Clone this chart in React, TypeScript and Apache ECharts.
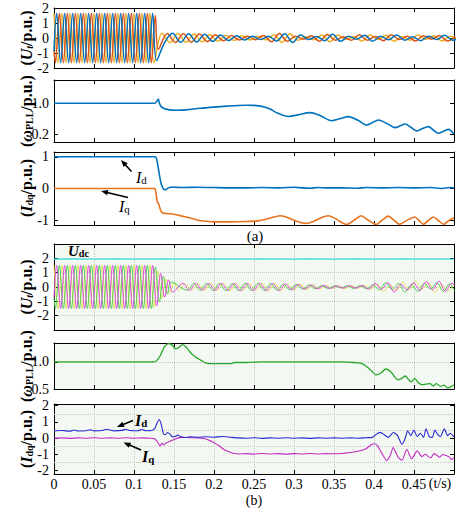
import React, { useEffect, useRef } from "react";
import * as echarts from "echarts";

const SERIF = "Liberation Serif";

// ---------------- time axis ----------------
const timeMin = 0;
const timeMax = 0.5;
const timeStep = 0.05;

// ---------------- (a) U_t : extrema of the three phases ----------------
// pre-fault extrema, one every 0.005 s
const utAYellowPre = [1.65,-1.65,1.65,-1.65,1.65,-1.65,1.65,-1.65,1.65,-1.65,1.65,-1.65,1.65,-1.65,1.65,-1.65,1.65,-1.65,1.65,-1.65,1.65,-1.65,1.65,-1.65,1.65,-1.65];
const utABluePre = [1.65,-1.65,1.65,-1.65,1.65,-1.65,1.65,-1.65,1.65,-1.65,1.65,-1.65,1.65,-1.65,1.65,-1.65,1.65,-1.65,1.65,-1.65,1.65,-1.65,1.65,-1.65,1.65];
const utAOrangePre = [-1.65,1.65,-1.65,1.65,-1.65,1.65,-1.65,1.65,-1.65,1.65,-1.65,1.65,-1.65,1.65,-1.65,1.65,-1.65,1.65,-1.65,1.65,-1.65,1.65,-1.65,1.65,-1.65];
const utABlueHead = [[0, -0.83]];
const utAOrangeHead = [[0, -0.83]];
const utABlueFault = [[0.1283, -1.5]];
const utAOrangeFault = [[0.1267, 1.5], [0.1305, -0.75]];
// post-fault extrema, one every 0.01 s
const utAYellowPost = [0.32,-0.31,0.30,-0.29,0.27,-0.26,0.24,-0.21,0.19,-0.17,0.15,-0.13,0.12,-0.14,0.22,-0.30,0.28,-0.15,0.08,-0.12,0.2,-0.25,0.2,-0.1,0.1,-0.2,0.2,-0.1,0.18,-0.22,0.1,-0.15,0.2,-0.08,0.15,-0.2,0.12,-0.1];
const utABluePost = [-0.3,0.31,-0.29,0.28,-0.27,0.25,-0.22,0.2,-0.17,0.15,-0.13,0.12,-0.1,0.12,-0.2,0.28,-0.3,0.2,-0.1,0.1,-0.18,0.25,-0.22,0.12,-0.08,0.18,-0.22,0.12,-0.12,0.2,-0.15,0.08,-0.18,0.12,-0.1,0.18,-0.15,0.1];
const utAOrangePost = [0.3,-0.3,0.29,-0.28,0.26,-0.24,0.21,-0.19,0.16,-0.14,0.12,-0.12,0.16,-0.25,0.3,-0.22,0.12,-0.08,0.15,-0.22,0.24,-0.15,0.08,-0.15,0.22,-0.15,0.1,-0.18,0.22,-0.1,0.12,-0.2,0.15,-0.08,0.16,-0.2,0.1];

// ---------------- (a) omega_PLL ----------------
const wA = [[0,1.0],[0.05,1.0],[0.1,1.0],[0.126,1.0],[0.1285,1.05],[0.1304,1.11],[0.1315,1.02],[0.1335,0.92],[0.137,0.87],[0.1425,0.835],[0.153,0.82],[0.165,0.83],[0.1825,0.87],[0.2,0.9],[0.224,0.935],[0.24,0.95],[0.25,0.945],[0.26,0.92],[0.27,0.85],[0.28,0.74],[0.2929,0.66],[0.305,0.7],[0.32,0.757],[0.333,0.68],[0.347,0.55],[0.357,0.6],[0.368,0.654],[0.38,0.56],[0.391,0.44],[0.398,0.5],[0.4054,0.568],[0.416,0.48],[0.4263,0.37],[0.433,0.42],[0.439,0.465],[0.446,0.38],[0.4533,0.284],[0.46,0.34],[0.468,0.396],[0.474,0.31],[0.4804,0.224],[0.487,0.28],[0.4929,0.327],[0.5,0.206]];

// ---------------- (a) I_d, I_q ----------------
const idA = [[0,1.0],[0.05,1.0],[0.1,1.0],[0.126,1.0],[0.128,0.95],[0.13,0.7],[0.132,0.4],[0.134,0.15],[0.136,0.02],[0.138,-0.04],[0.14,-0.03],[0.143,0.02],[0.146,0.04],[0.15,0.04],[0.16,0.03],[0.18,0.04],[0.2,0.03],[0.22,0.02],[0.24,0.02],[0.26,0.03],[0.28,0.02],[0.3,0.04],[0.31,0.02],[0.32,0.01],[0.33,0.03],[0.34,0.02],[0.36,0.02],[0.38,0.01],[0.39,0.03],[0.41,0.02],[0.43,0.03],[0.45,0.02],[0.47,0.03],[0.485,0.0],[0.495,0.03],[0.5,0.02]];
const iqA = [[0,0.0],[0.05,0.0],[0.1,0.0],[0.126,0.0],[0.1275,-0.15],[0.129,-0.4],[0.131,-0.5],[0.1335,-0.7],[0.136,-0.77],[0.14,-0.79],[0.15,-0.81],[0.16,-0.87],[0.17,-0.93],[0.18,-1.0],[0.19,-1.03],[0.2,-1.05],[0.22,-1.05],[0.24,-1.04],[0.255,-1.02],[0.265,-0.97],[0.275,-0.9],[0.2825,-0.86],[0.29,-0.9],[0.3,-1.0],[0.308,-1.07],[0.316,-1.1],[0.324,-1.04],[0.334,-0.92],[0.343,-0.86],[0.352,-0.95],[0.36,-1.08],[0.366,-1.13],[0.375,-1.0],[0.384,-0.86],[0.393,-1.0],[0.403,-1.13],[0.41,-1.0],[0.418,-0.87],[0.425,-1.0],[0.432,-1.13],[0.44,-1.02],[0.451,-0.9],[0.456,-1.0],[0.462,-1.13],[0.468,-1.0],[0.474,-0.9],[0.48,-1.0],[0.487,-1.13],[0.494,-1.0],[0.5,-0.92]];

// ---------------- (b) U_t : extrema ----------------
const utBYellowPre = [1.5,-1.5,1.5,-1.5,1.5,-1.5,1.5,-1.5,1.5,-1.5,1.5,-1.5,1.5,-1.5,1.5,-1.5,1.5,-1.5,1.5,-1.5,1.5,-1.5,1.5,-1.5,1.5,-1.4,1.1,-0.8,0.55,-0.4,0.3];
const utBMagentaPre = [1.5,-1.5,1.5,-1.5,1.5,-1.5,1.5,-1.5,1.5,-1.5,1.5,-1.5,1.5,-1.5,1.5,-1.5,1.5,-1.5,1.5,-1.5,1.5,-1.5,1.5,-1.5,1.5,-1.3,0.95,-0.7,0.5,-0.35];
const utBGreenPre = [-1.5,1.5,-1.5,1.5,-1.5,1.5,-1.5,1.5,-1.5,1.5,-1.5,1.5,-1.5,1.5,-1.5,1.5,-1.5,1.5,-1.5,1.5,-1.5,1.5,-1.5,1.5,-1.5,1.4,-1.05,0.75,-0.5,0.35];
const utBMagentaHead = [[0, -0.75]];
const utBGreenHead = [[0, -0.75]];
// post-fault extrema, one every 0.008 s
const utBYellowPost = [-0.25,0.22,-0.25,0.22,-0.24,0.25,-0.22,0.25,-0.26,0.24,-0.25,0.26,-0.24,0.25,-0.26,0.24,-0.25,0.22,-0.2,0.2,-0.18,0.15,-0.15,0.12,-0.1,0.08,-0.1,0.08,-0.08,0.12,-0.15,0.2,-0.3,0.15,-0.25,0.35,-0.2,0.42,-0.15,0.3,-0.38,0.2,-0.3,0.25];
const utBMagentaPost = [0.25,-0.24,0.26,-0.22,0.25,-0.24,0.26,-0.25,0.24,-0.26,0.25,-0.24,0.26,-0.25,0.24,-0.25,0.22,-0.2,0.18,-0.16,0.15,-0.12,0.1,-0.1,0.08,-0.08,0.1,-0.08,0.1,-0.15,0.25,-0.15,0.3,-0.35,0.2,-0.2,0.3,-0.25,0.38,-0.2,0.4,-0.3,0.25,-0.2];
const utBGreenPost = [-0.22,0.25,-0.24,0.25,-0.25,0.24,-0.26,0.24,-0.25,0.26,-0.24,0.25,-0.25,0.24,-0.22,0.2,-0.2,0.18,-0.15,0.14,-0.12,0.1,-0.1,0.08,-0.06,0.08,-0.1,0.1,-0.12,0.15,-0.2,0.3,-0.18,0.25,-0.35,0.15,-0.3,0.25,-0.15,0.3,-0.3,0.22,-0.35,0.2];
// U_dc, one reading every 0.02 s
const udcB = [1.95,1.96,1.94,1.95,1.96,1.95,1.94,1.96,1.95,1.95,1.96,1.94,1.95,1.96,1.95,1.94,1.96,1.95,1.95,1.96,1.94,1.95,1.96,1.95,1.94,1.95];

// ---------------- (b) omega_PLL ----------------
const wB = [[0,1.0],[0.05,1.0],[0.1,1.0],[0.124,1.0],[0.128,1.02],[0.133,1.12],[0.138,1.28],[0.143,1.34],[0.147,1.32],[0.152,1.24],[0.156,1.27],[0.161,1.32],[0.166,1.26],[0.172,1.15],[0.178,1.08],[0.184,1.03],[0.19,0.98],[0.2,0.97],[0.21,0.97],[0.222,0.97],[0.226,0.99],[0.24,0.99],[0.26,1.0],[0.28,1.0],[0.3,1.0],[0.32,1.0],[0.34,1.0],[0.36,1.0],[0.375,0.99],[0.385,0.97],[0.392,0.9],[0.398,0.82],[0.403,0.76],[0.409,0.8],[0.415,0.87],[0.421,0.82],[0.426,0.72],[0.43,0.67],[0.435,0.7],[0.439,0.74],[0.443,0.68],[0.446,0.63],[0.451,0.69],[0.455,0.62],[0.46,0.58],[0.465,0.59],[0.47,0.6],[0.474,0.56],[0.478,0.6],[0.483,0.55],[0.488,0.57],[0.492,0.52],[0.497,0.55],[0.5,0.58]];

// ---------------- (b) I_d, I_q ----------------
const idB = [[0,0.45],[0.01,0.47],[0.02,0.43],[0.025,0.5],[0.03,0.44],[0.04,0.46],[0.045,0.52],[0.05,0.45],[0.06,0.47],[0.065,0.55],[0.07,0.5],[0.075,0.45],[0.085,0.48],[0.09,0.55],[0.095,0.47],[0.105,0.46],[0.11,0.53],[0.115,0.46],[0.122,0.47],[0.126,0.6],[0.129,0.95],[0.1315,1.15],[0.134,0.85],[0.137,0.25],[0.1395,0.22],[0.142,0.35],[0.145,0.25],[0.148,0.08],[0.152,0.12],[0.155,0.2],[0.158,0.1],[0.163,0.04],[0.17,0.08],[0.18,0.06],[0.19,0.09],[0.2,0.06],[0.21,0.1],[0.22,0.06],[0.23,0.02],[0.24,0.0],[0.25,0.03],[0.26,-0.01],[0.27,0.02],[0.28,0.0],[0.29,0.03],[0.3,0.0],[0.31,0.02],[0.32,-0.01],[0.33,0.02],[0.34,0.0],[0.35,0.02],[0.36,0.0],[0.37,0.02],[0.38,0.0],[0.39,0.03],[0.398,0.05],[0.403,0.25],[0.408,0.36],[0.413,0.2],[0.418,0.05],[0.424,0.35],[0.429,0.2],[0.435,-0.38],[0.439,0.0],[0.442,0.45],[0.446,0.15],[0.45,0.5],[0.454,0.1],[0.458,0.3],[0.462,0.05],[0.465,0.58],[0.469,0.1],[0.473,0.05],[0.476,0.5],[0.48,0.2],[0.483,0.1],[0.488,0.58],[0.492,0.15],[0.495,0.3],[0.5,0.08]];
const iqB = [[0,0.0],[0.01,0.02],[0.02,-0.01],[0.03,0.02],[0.04,0.0],[0.05,0.03],[0.06,0.0],[0.07,0.02],[0.08,0.0],[0.09,0.03],[0.1,0.0],[0.11,0.02],[0.12,0.0],[0.125,-0.02],[0.129,-0.2],[0.1325,-0.48],[0.135,-0.3],[0.137,-0.42],[0.14,-0.3],[0.145,-0.19],[0.15,-0.08],[0.155,0.02],[0.16,0.05],[0.17,0.03],[0.18,0.02],[0.187,-0.02],[0.195,-0.15],[0.2,-0.28],[0.206,-0.45],[0.212,-0.68],[0.218,-0.82],[0.224,-0.93],[0.232,-0.97],[0.24,-0.95],[0.25,-0.98],[0.26,-0.94],[0.27,-0.97],[0.28,-0.95],[0.29,-0.98],[0.3,-0.95],[0.31,-0.97],[0.32,-0.94],[0.33,-0.97],[0.34,-0.95],[0.35,-0.96],[0.36,-0.94],[0.37,-0.88],[0.38,-0.8],[0.39,-0.65],[0.396,-0.42],[0.401,-0.34],[0.405,-0.5],[0.41,-0.95],[0.4158,-1.36],[0.42,-1.1],[0.424,-0.58],[0.43,-1.16],[0.435,-1.36],[0.441,-0.68],[0.447,-1.27],[0.454,-0.78],[0.46,-1.13],[0.464,-0.97],[0.467,-1.1],[0.471,-1.2],[0.475,-0.95],[0.478,-1.03],[0.482,-1.17],[0.486,-1.0],[0.49,-1.07],[0.494,-1.15],[0.497,-1.32],[0.5,-1.2]];

// ---------------- y tick labels ----------------
const yTicksUtA = [-2, -1, 0, 1, 2];
const yTicksWA = [0.2, 1.0];
const yTicksIdqA = [-1, 0, 1];
const yTicksUtB = [-2, -1, 0, 1, 2];
const yTicksWB = [0.5, 1.0];
const yTicksIdqB = [-2, -1, 0, 1, 2];
const idqBGridLines = [-1.5, -0.5, 0.5, 1.5];

// sample series at the extrema grid (t0 + i*dt)
const seq = (t0: number, dt: number, vals: number[]) =>
  vals.map((v, i) => [Math.round((t0 + i * dt) * 1e5) / 1e5, v]);

const panels = [
  { top: 8, height: 60, min: -2, max: 2, interval: 1, ticks: yTicksUtA, dec: 0, bg: false },
  { top: 80, height: 62, min: 0, max: 1.6, ticks: yTicksWA, dec: 1, bg: false },
  { top: 152, height: 73, min: -1.15, max: 1.15, ticks: yTicksIdqA, dec: 0, bg: false },
  { top: 244, height: 86, min: -3, max: 3, interval: 1, ticks: yTicksUtB, dec: 0, bg: true, split: true },
  { top: 343, height: 46, min: 0.5, max: 1.35, interval: 0.25, ticks: yTicksWB, dec: 1, bg: true, split: true },
  { top: 404, height: 70, min: -2.2, max: 2.1, ticks: yTicksIdqB, dec: 0, bg: true, split: false },
];

function arrow(x1: number, y1: number, x2: number, y2: number) {
  const dx = x1 - x2, dy = y1 - y2;
  const len = Math.hypot(dx, dy);
  const ux = dx / len, uy = dy / len, nx = -uy, ny = ux;
  const L = 7, W = 2.8;
  return [
    { type: "line", z: 100, shape: { x1, y1, x2: x2 + ux * 4, y2: y2 + uy * 4 }, style: { stroke: "#000", lineWidth: 1.6 } },
    { type: "polygon", z: 100, shape: { points: [[x2, y2], [x2 + ux * L + nx * W, y2 + uy * L + ny * W], [x2 + ux * L - nx * W, y2 + uy * L - ny * W]] }, style: { fill: "#000" } },
  ];
}

const richY = {
  p: { fontFamily: SERIF, fontSize: 16, fontWeight: "bold", fill: "#000" },
  v: { fontFamily: SERIF, fontSize: 16, fontWeight: "bold", fontStyle: "italic", fill: "#000" },
  s: { fontFamily: SERIF, fontSize: 10, fontWeight: "bold", fill: "#000", verticalAlign: "bottom" },
  si: { fontFamily: SERIF, fontSize: 10, fontWeight: "bold", fontStyle: "italic", fill: "#000", verticalAlign: "bottom" },
};

function yName(y: number, text: string) {
  return { type: "text", x: 26, y, rotation: Math.PI / 2, z: 100, style: { text, rich: richY, align: "center", verticalAlign: "middle" } };
}

function subLabel(x: number, y: number, main: string, sub: string, bold: boolean, size: number) {
  return {
    type: "text", x, y, z: 100,
    style: {
      text: `{m|${main}}{s|${sub}}`, align: "left", verticalAlign: "middle",
      rich: {
        m: { fontFamily: SERIF, fontSize: size, fontStyle: "italic", fontWeight: bold ? "bold" : "normal", fill: "#000" },
        s: { fontFamily: SERIF, fontSize: size * 0.68, fontWeight: bold ? "bold" : "normal", fill: "#000", verticalAlign: "bottom" },
      },
    },
  };
}

export default function App() {
  const ref = useRef<HTMLDivElement>(null);
  useEffect(() => {
    document.body.style.margin = "0";
    const chart = echarts.init(ref.current!, undefined, { renderer: "svg" });

    const grid: any[] = [];
    const xAxis: any[] = [];
    const yAxis: any[] = [];
    panels.forEach((p, i) => {
      grid.push({ left: 54, right: 9, top: p.top, height: p.height, show: p.bg, backgroundColor: "#f3f8f3", borderWidth: 0 });
      const axLine = { show: true, onZero: false, lineStyle: { color: "#000", width: 1 } };
      const tick = { show: true, inside: true, length: 4, lineStyle: { color: "#000", width: 1 } };
      const dotted = { type: "dotted", color: "#c4c4c4", width: 1 };
      const xBase = { type: "value", gridIndex: i, min: timeMin, max: timeMax, interval: timeStep, axisLine: axLine, axisTick: tick };
      xAxis.push({
        ...xBase, position: "bottom",
        axisLabel: {
          show: i === 5, margin: 3, color: "#000", fontFamily: SERIF, fontSize: 14, lineHeight: 14, showMinLabel: true, showMaxLabel: true,
          formatter: (v: number) => (v > timeMax - 1e-9 ? "" : String(parseFloat(v.toFixed(2)))),
        },
        splitLine: { show: i >= 3, lineStyle: dotted },
      });
      xAxis.push({ ...xBase, position: "top", axisLabel: { show: false }, splitLine: { show: false } });
      const yBase: any = { type: "value", gridIndex: i, min: p.min, max: p.max, axisLine: axLine };
      if (p.interval) yBase.interval = p.interval;
      yAxis.push({
        ...yBase, position: "left",
        axisTick: { ...tick, customValues: p.ticks },
        axisLabel: { show: true, margin: 5, color: "#000", fontFamily: SERIF, fontSize: 14, customValues: p.ticks, formatter: (v: number) => v.toFixed(p.dec) },
        splitLine: { show: !!p.split, lineStyle: dotted },
      });
      yAxis.push({ ...yBase, position: "right", axisTick: { ...tick, customValues: p.ticks }, axisLabel: { show: false }, splitLine: { show: false } });
    });

    const line = (pi: number, data: any[], color: string, width: number, smooth: number | boolean, extra: any = {}) => ({
      type: "line", xAxisIndex: 2 * pi, yAxisIndex: 2 * pi, data, symbol: "none", showSymbol: false, smooth, silent: true,
      lineStyle: { color, width }, itemStyle: { color }, ...extra,
    });

    const A_BLUE = "#0072BD", A_ORANGE = "#D95319", A_YELLOW = "#EDB120";
    const S = 0.36;

    const series: any[] = [
      line(0, [...seq(0, 0.005, utAYellowPre), ...seq(0.135, 0.01, utAYellowPost)], A_YELLOW, 1.5, S),
      line(0, [...utAOrangeHead, ...seq(0.0017, 0.005, utAOrangePre), ...utAOrangeFault, ...seq(0.1417, 0.01, utAOrangePost)], A_ORANGE, 1.5, S),
      line(0, [...utABlueHead, ...seq(0.0033, 0.005, utABluePre), ...utABlueFault, ...seq(0.1383, 0.01, utABluePost)], A_BLUE, 1.5, S),
      line(1, wA, A_BLUE, 1.6, 0.3),
      line(2, iqA, "#E8731E", 1.6, 0.2),
      line(2, idA, A_BLUE, 1.6, 0.2),
      line(3, seq(0, 0.02, udcB), "#3ee0e0", 1.2, false),
      line(3, [...seq(0, 0.005, utBYellowPre), ...seq(0.156, 0.008, utBYellowPost)], "#e2e25a", 1, S),
      line(3, [...utBGreenHead, ...seq(0.0017, 0.005, utBGreenPre), ...seq(0.1667, 0.008, utBGreenPost)], "#4ed04e", 1, S),
      line(3, [...utBMagentaHead, ...seq(0.0033, 0.005, utBMagentaPre), ...seq(0.1613, 0.008, utBMagentaPost)], "#e048e0", 1, S),
      line(4, wB, "#26a826", 1.3, 0.3),
      line(5, iqB, "#c22cc2", 1.1, 0.2, {
        markLine: { silent: true, z: 1, symbol: ["none", "none"], label: { show: false }, lineStyle: { type: "dotted", color: "#c4c4c4", width: 1 }, data: idqBGridLines.map((v) => ({ yAxis: v })) },
      }),
      line(5, idB, "#2a2ad0", 1.1, 0.2),
    ];

    const graphic: any[] = [
      yName(38, "{p|(}{v|U}{si|t}{p|/p.u.)}"),
      yName(111, "{p|(}{v|ω}{s|PLL}{p|/p.u.)}"),
      yName(188, "{p|(}{v|I}{s|dq}{p|/p.u.)}"),
      yName(287, "{p|(}{v|U}{si|t}{p|/p.u.)}"),
      yName(366, "{p|(}{v|ω}{s|PLL}{p|/p.u.)}"),
      yName(439, "{p|(}{v|I}{s|dq}{p|/p.u.)}"),
      subLabel(136, 177, "I", "d", false, 16),
      subLabel(119, 206, "I", "q", false, 16),
      ...arrow(131.5, 171.5, 121, 160),
      ...arrow(128, 197.5, 101, 191),
      subLabel(135, 420, "I", "d", true, 16),
      subLabel(142, 456, "I", "q", true, 16),
      ...arrow(133, 420.5, 117, 427),
      ...arrow(141, 450, 123.5, 442.5),
      subLabel(68, 251, "U", "dc", true, 15),
      { type: "text", x: 255, y: 236, z: 100, style: { text: "(a)", fontFamily: SERIF, fontSize: 15, fill: "#000", align: "center", verticalAlign: "middle" } },
      { type: "text", x: 254, y: 500, z: 100, style: { text: "(b)", fontFamily: SERIF, fontSize: 14, lineHeight: 14, fill: "#000", align: "center", verticalAlign: "middle" } },
      { type: "text", x: 440, y: 483, z: 100, style: { text: "(t/s)", fontFamily: SERIF, fontSize: 14, fill: "#000", align: "center", verticalAlign: "middle" } },
    ];

    chart.setOption({ animation: false, backgroundColor: "#fff", grid, xAxis, yAxis, series, graphic });
    return () => chart.dispose();
  }, []);
  return <div ref={ref} style={{ position: "fixed", left: 0, top: 0, width: 463, height: 508 }} />;
}
